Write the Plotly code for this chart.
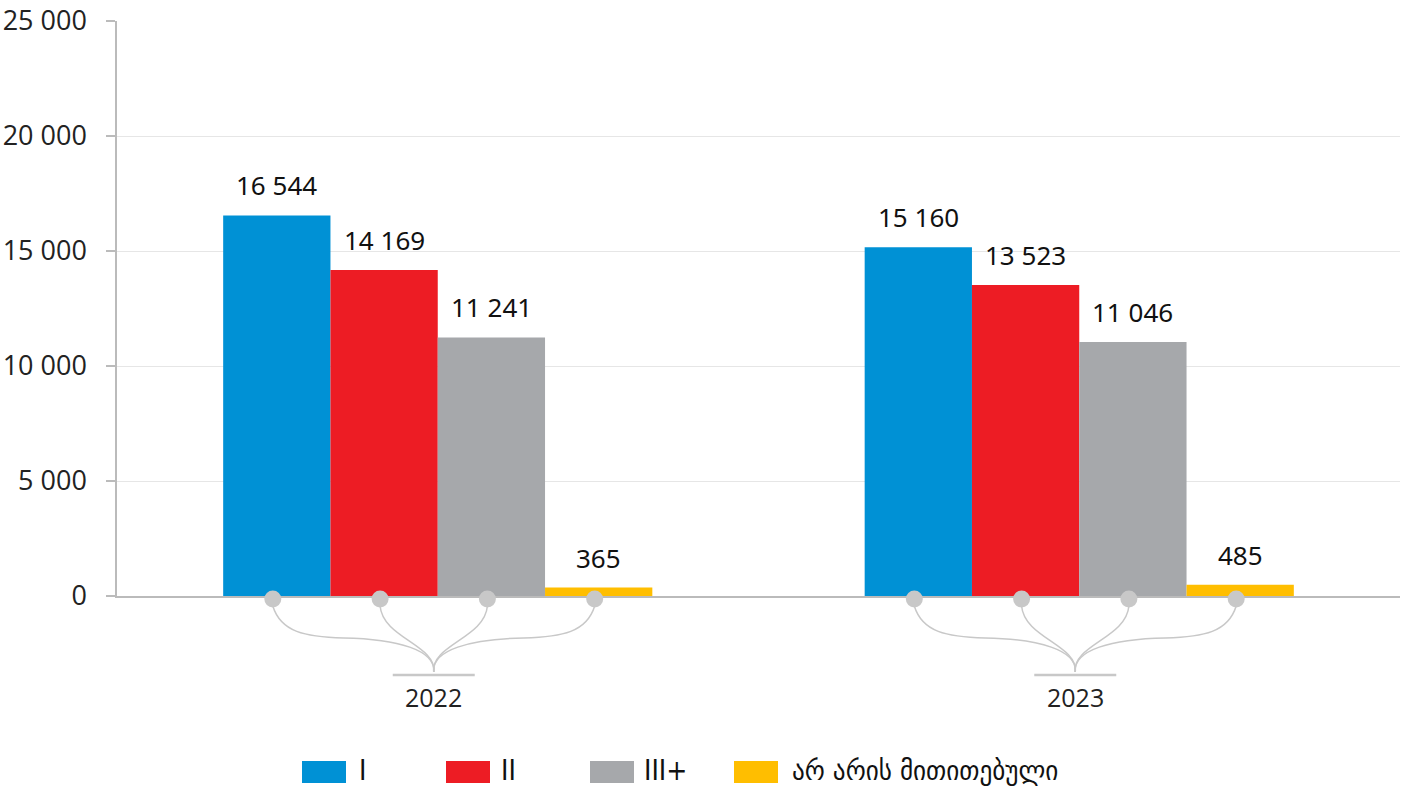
import plotly.graph_objects as go

years = ["2022", "2023"]
series_names = ["I", "II", "III+", "არ არის მითითებული"]
series_values = [
    [16544, 15160],
    [14169, 13523],
    [11241, 11046],
    [365, 485],
]
colors = ["#0091D5", "#ED1C24", "#A6A8AB", "#FFBE00"]
y_ticks = [0, 5000, 10000, 15000, 20000, 25000]

W, H = 1407, 788
ML, MT, MR = 117, 21, 7
MB = H - 596
plot_w = W - ML - MR
plot_h = H - MT - MB
px_per_unit = plot_w / 2.0  # x range spans 2 category units

bargap = 0.331
n = len(series_names)
bar_w = (1 - bargap) / n

def fmt(v):
    return f"{v:,}".replace(",", " ")

fig = go.Figure()
xs = list(range(len(years)))
for i, (name, vals, col) in enumerate(zip(series_names, series_values, colors)):
    fig.add_trace(go.Bar(
        x=xs, y=vals, name=name, marker=dict(color=col, line=dict(width=0)),
        showlegend=False, hoverinfo="y+name",
    ))

annotations = []
shapes = []
for i, vals in enumerate(series_values):
    for g, v in enumerate(vals):
        xc = g + (i - (n - 1) / 2) * bar_w
        annotations.append(dict(
            x=xc, y=v, xref="x", yref="y", text=fmt(v), showarrow=False,
            yshift=30, yanchor="middle",
            font=dict(family="Noto Sans, Roboto, sans-serif", size=26, color="#111"),
        ))

# window pixel -> paper
def py(pix):
    return (MT + plot_h - pix) / plot_h

def pxx(pix):
    return (pix - ML) / plot_w

deco_col = "#C8C8C8"
shift = -4 / px_per_unit
for g in range(len(years)):
    cx = g + shift
    def X(dpx):
        return cx + dpx / px_per_unit
    for i in range(n):
        bx = (i - (n - 1) / 2) * bar_w * px_per_unit  # pixel offset from group centre
        r = 8.5
        shapes.append(dict(type="circle", xref="x", yref="paper",
                           x0=X(bx - r), x1=X(bx + r), y0=py(599 + r), y1=py(599 - r),
                           fillcolor=deco_col, line=dict(width=0), layer="above"))
        s = 1 if bx < 0 else -1
        outer = abs(bx) > bar_w * px_per_unit
        y0 = 606
        if outer:
            midx = bx * 0.56
            path = (f"M {X(bx)},{py(y0)} "
                    f"C {X(bx + s*8)},{py(632)} {X(bx*0.8)},{py(637)} {X(midx)},{py(638)} "
                    f"C {X(midx*0.4)},{py(639)} {X(s*2)},{py(650)} {X(0)},{py(672)}")
        else:
            path = (f"M {X(bx)},{py(y0)} "
                    f"C {X(bx*0.95)},{py(638)} {X(s*3)},{py(645)} {X(0)},{py(672)}")
        shapes.append(dict(type="path", xref="x", yref="paper", path=path,
                           line=dict(color=deco_col, width=1.5), layer="above"))
    shapes.append(dict(type="line", xref="x", yref="paper",
                       x0=X(-41), x1=X(41), y0=py(675), y1=py(675),
                       line=dict(color=deco_col, width=2.5), layer="above"))
    annotations.append(dict(x=X(0), y=py(697), xref="x", yref="paper", text=years[g],
                            showarrow=False, yanchor="middle",
                            font=dict(family="Open Sans, sans-serif", size=25, color="#222")))

# custom legend
leg_sq_x = [302, 446, 590, 734]
leg_txt_x = [357, 499, 642, 790]
for i in range(n):
    shapes.append(dict(type="rect", xref="paper", yref="paper",
                       x0=pxx(leg_sq_x[i]), x1=pxx(leg_sq_x[i] + 44),
                       y0=py(783), y1=py(761), fillcolor=colors[i], line=dict(width=0)))
    annotations.append(dict(x=pxx(leg_txt_x[i]), y=py(770), xref="paper", yref="paper",
                            text=series_names[i], showarrow=False, xanchor="left", yanchor="middle",
                            font=dict(family="DejaVu Sans Condensed, DejaVu Sans, sans-serif",
                                      size=28, color="#111")))

fig.update_layout(
    width=W, height=H,
    margin=dict(l=ML, r=MR, t=MT, b=MB, autoexpand=False),
    paper_bgcolor="white", plot_bgcolor="white",
    barmode="group", bargap=bargap, bargroupgap=0,
    separators=". ",
    showlegend=False,
    annotations=annotations, shapes=shapes,
    xaxis=dict(range=[-0.5, 1.5], tickvals=xs, showticklabels=False,
               showgrid=False, zeroline=False, showline=True, linecolor="#BBBBBB", linewidth=1.5,
               ticks="", fixedrange=True, automargin=False),
    yaxis=dict(range=[0, 25000], tickvals=y_ticks, tickformat=",d",
               showgrid=True, gridcolor="#E6E6E6", gridwidth=1, zeroline=False,
               showline=True, linecolor="#BBBBBB", linewidth=1.5,
               ticks="outside", ticklen=9, tickcolor="#BBBBBB", tickwidth=1.5,
               ticklabelstandoff=14, ticklabeloverflow="allow", automargin=False,
               tickfont=dict(family="Open Sans, sans-serif", size=27, color="#222"),
               fixedrange=True),
)

fig.write_html(
    "out.html",
    config={"displayModeBar": False},
    post_script="document.body.style.margin='0px';document.body.style.overflow='hidden';",
)
